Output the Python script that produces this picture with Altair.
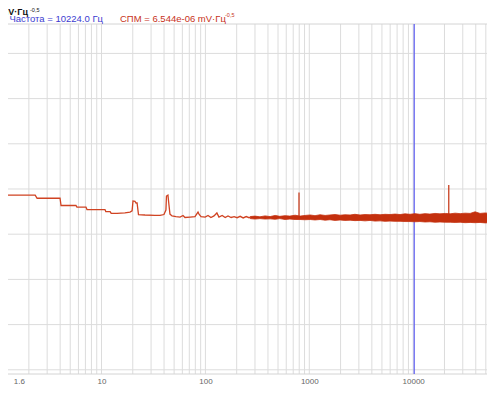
import altair as alt
import pandas as pd

# ---------------- data ----------------
# x axis: frequency, Hz (log); y: spectral density level, dB re 1 mV/Hz^0.5
X_DOMAIN = [1.2593, 51320]
Y_DOMAIN = [-181.86, -26.99]

tick_labels = [1.6, 10, 100, 1000, 10000]
grid_freqs = [m * 10 ** k for k in range(0, 5) for m in range(1, 10)
              if X_DOMAIN[0] <= m * 10 ** k <= X_DOMAIN[1]]
grid_levels = [-40, -60, -80, -100, -120, -140, -160, -180]

cursor_freq = [10224.0]

# low-frequency part of the trace
trace_f = [1.26, 2.30, 2.40, 3.99, 4.08, 5.68, 5.80, 7.09, 7.25, 10.8, 11.0, 12.1,
           12.4, 14.1, 16.8, 18.8, 19.7, 20.1, 21.0, 21.5, 22.0, 22.7, 26.2, 32.7,
           36.6, 39.9, 41.7, 42.2, 43.6, 44.6, 45.6, 47.7, 52.1, 57.0, 60.9, 63.6,
           71.2, 79.4, 84.9, 86.8, 90.8, 99.5, 106, 113, 121, 129, 135, 145, 155,
           165, 177, 189, 202, 216, 231, 247, 263, 270]
trace_db = [-102.7, -102.7, -104.1, -104.1, -107.3, -107.3, -108.0, -108.0, -109.1,
            -109.1, -110.0, -110.0, -110.8, -110.8, -110.6, -110.2, -109.7, -105.3,
            -105.5, -106.2, -106.2, -111.3, -111.5, -111.7, -111.7, -111.3, -109.3,
            -103.1, -102.7, -107.1, -111.1, -111.9, -112.2, -112.4, -111.7, -112.6,
            -112.4, -112.2, -110.2, -111.1, -112.2, -112.4, -111.7, -112.6, -111.9,
            -110.6, -112.4, -111.7, -112.6, -111.9, -112.6, -112.2, -112.7, -112.1,
            -112.8, -112.2, -112.7, -112.5]

# dense noise floor (upper / lower envelope)
band_f = [270, 300, 335, 375, 420, 470, 520, 585, 650, 730,
          815, 910, 1020, 1135, 1270, 1420, 1580, 1770, 1980, 2200,
          2470, 2750, 3080, 3440, 3840, 4290, 4800, 5360, 5980, 6680,
          7470, 8340, 9320, 10400, 11600, 13000, 14500, 16200, 18100, 20300,
          22700, 25300, 28300, 31600, 35300, 39400, 44000, 49200, 55000, 61300]
band_hi = [-112.2, -112.0, -112.3, -111.9, -112.2, -111.7, -112.1, -111.8, -112.0, -111.6,
           -112.0, -111.7, -111.5, -111.8, -111.4, -111.7, -111.5, -111.3, -111.6, -111.4,
           -111.5, -111.2, -111.5, -111.3, -111.4, -111.2, -111.4, -111.2, -111.3, -111.1,
           -111.3, -111.0, -111.2, -110.9, -111.2, -110.9, -111.1, -110.8, -111.0, -110.8,
           -111.0, -110.7, -110.9, -110.7, -110.8, -110.1, -110.8, -110.6, -110.8, -110.6]
band_lo = [-113.1, -113.3, -113.1, -113.3, -113.2, -113.4, -113.1, -113.5, -113.3, -113.5,
           -113.5, -113.6, -113.5, -113.7, -113.5, -113.8, -113.6, -113.9, -113.7, -113.9,
           -113.8, -114.0, -113.9, -114.1, -113.9, -114.2, -114.1, -114.3, -114.2, -114.3,
           -114.3, -114.4, -114.4, -114.5, -114.4, -114.6, -114.5, -114.7, -114.6, -114.7,
           -114.7, -114.8, -114.7, -114.9, -114.8, -114.9, -114.8, -115.0, -114.9, -115.0]

# narrow spectral lines
spike_f = [796, 22000]
spike_base = [-112.8, -113.0]
spike_top = [-101.5, -98.2]

# ---------------- chart ----------------
FONT = "Liberation Sans"
LINE_RED = "#d04322"
BAND_RED = "#c4300e"
GRID = "#dcdcdc"

xs = alt.Scale(type="log", domain=X_DOMAIN, nice=False, zero=False)
ys = alt.Scale(domain=Y_DOMAIN, nice=False, zero=False)

x_axis = alt.Axis(values=tick_labels, grid=False, ticks=False, domain=False,
                  labelFontSize=8, labelColor="#666666", labelFont=FONT,
                  labelPadding=3, title=None, labelExpr="format(datum.value, '~g')")

vgrid = alt.Chart(pd.DataFrame({"f": grid_freqs})).mark_rule(
    color=GRID, strokeWidth=1).encode(x=alt.X("f:Q", scale=xs, axis=x_axis))

hgrid = alt.Chart(pd.DataFrame({"v": grid_levels})).mark_rule(
    color=GRID, strokeWidth=1).encode(y=alt.Y("v:Q", scale=ys, axis=None))

frame = alt.Chart(pd.DataFrame({"v": [Y_DOMAIN[0], Y_DOMAIN[1]]})).mark_rule(
    color="#d4d4d4", strokeWidth=1).encode(y=alt.Y("v:Q", scale=ys, axis=None))

cursor = alt.Chart(pd.DataFrame({"f": cursor_freq})).mark_rule(
    color="#5a5af0", strokeWidth=1.2).encode(x=alt.X("f:Q", scale=xs))

band = alt.Chart(pd.DataFrame({"f": band_f, "hi": band_hi, "lo": band_lo})).mark_area(
    color=BAND_RED, stroke=BAND_RED, strokeWidth=0.8, clip=True).encode(
    x=alt.X("f:Q", scale=xs), y=alt.Y("hi:Q", scale=ys), y2="lo:Q")

trace = alt.Chart(pd.DataFrame({"f": trace_f, "v": trace_db})).mark_line(
    color=LINE_RED, strokeWidth=1.3, clip=True).encode(
    x=alt.X("f:Q", scale=xs), y=alt.Y("v:Q", scale=ys), order="f:Q")

spikes = alt.Chart(pd.DataFrame({"f": spike_f, "b": spike_base, "t": spike_top})).mark_rule(
    color=BAND_RED, strokeWidth=1.2).encode(
    x=alt.X("f:Q", scale=xs), y=alt.Y("t:Q", scale=ys), y2="b:Q")

one = alt.Data(values=[{}])


def label(txt, x, y, size, color, align="left", weight="normal"):
    return alt.Chart(one).mark_text(
        text=txt, align=align, baseline="alphabetic", font=FONT,
        fontSize=size, fontWeight=weight, color=color).encode(
        x=alt.value(x), y=alt.value(y))


texts = [
    label("mV·Гц", 20, -9, 9, "#111111", align="right", weight="bold"),
    label("-0,5", 22, -12, 5.5, "#111111"),
    label("Частота = 10224.0 Гц", 95, -2.5, 9.5, "#3b3bd0", align="right"),
    label("СПМ = 6.544e-06 mV·Гц", 112, -2.5, 9.5, "#c8321a"),
    label("-0,5", 217, -7, 5.5, "#c8321a"),
]

chart = alt.layer(vgrid, hgrid, frame, cursor, band, trace, spikes, *texts).properties(
    width=479, height=350,
    autosize=alt.AutoSizeParams(type="none"),
    padding={"left": 0, "top": 16, "right": 0, "bottom": 18},
    background="white",
).configure_view(stroke=None)

chart.save("out.html", embed_options={"renderer": "svg", "actions": False})
